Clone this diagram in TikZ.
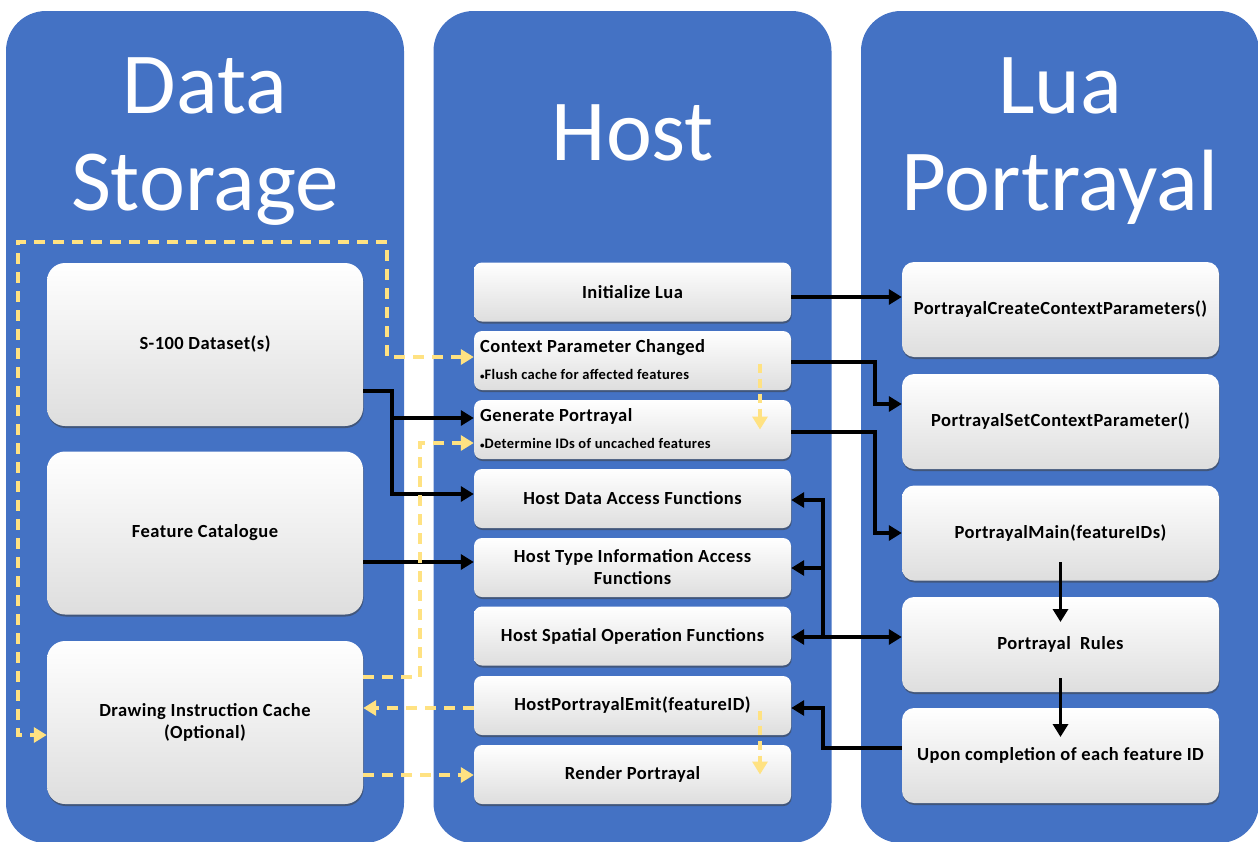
\documentclass[tikz,border=0pt]{standalone}
\usepackage{fontspec}
\setmainfont{Carlito}
\newfontfamily\boxfont{Carlito}[LetterSpace=2.5]
\usetikzlibrary{arrows.meta,shadows,calc}
\definecolor{panelblue}{RGB}{68,114,196}
\definecolor{dashyellow}{RGB}{255,226,130}
\begin{document}
\begin{tikzpicture}[x=1pt,y=-1pt,
  panel/.style={fill=panelblue, draw=none, rounded corners=40pt, minimum width=398pt, minimum height=832pt, inner sep=0pt},
  ptitle/.style={text=white, font=\fontsize{87}{92}\selectfont, anchor=base, inner sep=0pt},
  wbox/.style={draw=none, rounded corners=#1, top color=white, middle color=white, bottom color=black!13,
     drop shadow={shadow xshift=0.6pt, shadow yshift=-2pt, opacity=0.55, fill=black!75},
     inner sep=0pt, font=\boxfont\fontsize{18.5}{22}\selectfont\bfseries, align=center},
  lbox/.style={wbox=18pt, minimum width=316pt, minimum height=163pt},
  hbox/.style={wbox=8pt, minimum width=317pt, minimum height=59pt},
  rbox/.style={wbox=12pt, minimum width=317pt, minimum height=95pt},
  hsub/.style={font=\boxfont\fontsize{18.5}{22}\selectfont\bfseries, anchor=base west, inner sep=0pt},
  hbul/.style={font=\boxfont\fontsize{14.5}{17}\selectfont\bfseries, anchor=base west, inner sep=0pt},
  conn/.style={line width=3.4pt, black, -{Triangle[length=13pt,width=15pt]}},
  dconn/.style={line width=3.8pt, dashyellow, dash pattern=on 11pt off 8pt, -{Triangle[length=13pt,width=15pt]}}
]
\useasboundingbox (0,0) rectangle (1258,841);

% panels
\node[panel] (pds) at (205,427) {};
\node[panel] (phost) at (632.5,427) {};
\node[panel] (plua) at (1060,427) {};

% titles
\node[ptitle] (tdata) at (205,113) {Data};
\node[ptitle] (tstor) at (205,210) {Storage};
\node[ptitle] (thost) at (633,160) {Host};
\node[ptitle] (tlua) at (1060,113) {Lua};
\node[ptitle] (tport) at (1060,210) {Portrayal};

% data storage boxes
\node[lbox] (s100) at (205,344.5) {S-100 Dataset(s)};
\node[lbox] (fc) at (205,533) {Feature Catalogue};
\node[lbox] (dic) at (205,722.5) {Drawing Instruction Cache\\(Optional)};

% host boxes
\node[hbox] (il) at (632.5,292) {Initialize Lua};
\node[hbox] (cpc) at (632.5,360.5) {};
\node[hsub] (cpct) at (480,352) {Context Parameter Changed};
\node[hbul] (cpcb) at (480,379) {{\fontsize{9}{9}\selectfont\textbullet}Flush cache for affected features};
\node[hbox] (gp) at (632.5,429.5) {};
\node[hsub] (gpt) at (480,421) {Generate Portrayal};
\node[hbul] (gpb) at (480,448) {{\fontsize{9}{9}\selectfont\textbullet}Determine IDs of uncached features};
\node[hbox] (hda) at (632.5,498.5) {Host Data Access Functions};
\node[hbox] (hti) at (632.5,567.5) {Host Type Information Access\\Functions};
\node[hbox] (hso) at (632.5,636) {Host Spatial Operation Functions};
\node[hbox] (hpe) at (632.5,705.5) {HostPortrayalEmit(featureID)};
\node[hbox] (rp) at (632.5,774.5) {Render Portrayal};

% lua boxes
\node[rbox] (pcc) at (1060.5,309.5) {PortrayalCreateContextParameters()};
\node[rbox] (psc) at (1060.5,421.5) {PortrayalSetContextParameter()};
\node[rbox] (pm) at (1060.5,533) {PortrayalMain(featureIDs)};
\node[rbox] (pr) at (1060.5,644.5) {Portrayal\ \ Rules};
\node[rbox] (upc) at (1060.5,755.5) {Upon completion of each feature ID};

% black connectors
\draw[conn] (il.east |- 0,297) -- (pcc.west |- 0,297);
\draw[conn] (cpc.east |- 0,362) -- (875,362) -- (875,404) -- (psc.west |- 0,404);
\draw[conn] (gp.east |- 0,432) -- (875,432) -- (875,533) -- (pm.west |- 0,533);
\draw[conn] (s100.east |- 0,391) -- (392,391) -- (392,494) -- (hda.west |- 0,494);
\draw[conn] (392,418) -- (gp.west |- 0,418);
\draw[conn] (fc.east |- 0,562) -- (hti.west |- 0,562);
\draw[line width=3.4pt, black, {Triangle[length=13pt,width=15pt]}-{Triangle[length=13pt,width=15pt]}] (hso.east |- 0,637) -- (pr.west |- 0,637);
\draw[conn] (823,637) -- (823,500) -- (hda.east |- 0,500);
\draw[conn] (823,568) -- (hti.east |- 0,568);
\draw[conn] (upc.west |- 0,748) -- (823,748) -- (823,708) -- (hpe.east |- 0,708);
\draw[conn] (pm.center |- 0,562) -- (pr.center |- 0,622);
\draw[conn] (pr.center |- 0,678) -- (upc.center |- 0,737);

% yellow dashed connectors
\draw[dconn, {Triangle[length=13pt,width=15pt]}-{Triangle[length=13pt,width=15pt]}] (cpc.west |- 0,357) -- (387,357) -- (387,242) -- (18,242) -- (18,735) -- (dic.west |- 0,735);
\draw[dconn] (dic.east |- 0,677) -- (420,677) -- (420,443) -- (gp.west |- 0,443);
\draw[dconn] (hpe.west |- 0,708) -- (dic.east |- 0,708);
\draw[dconn] (dic.east |- 0,775) -- (rp.west |- 0,775);
\draw[dconn, dash pattern=on 9pt off 6pt] (cpc.center -| 760,0) ++(0,3) -- (gp.center -| 760,0);
\draw[dconn, dash pattern=on 9pt off 6pt] (hpe.center -| 760,0) ++(0,5) -- (rp.center -| 760,0);
\end{tikzpicture}
\end{document}
